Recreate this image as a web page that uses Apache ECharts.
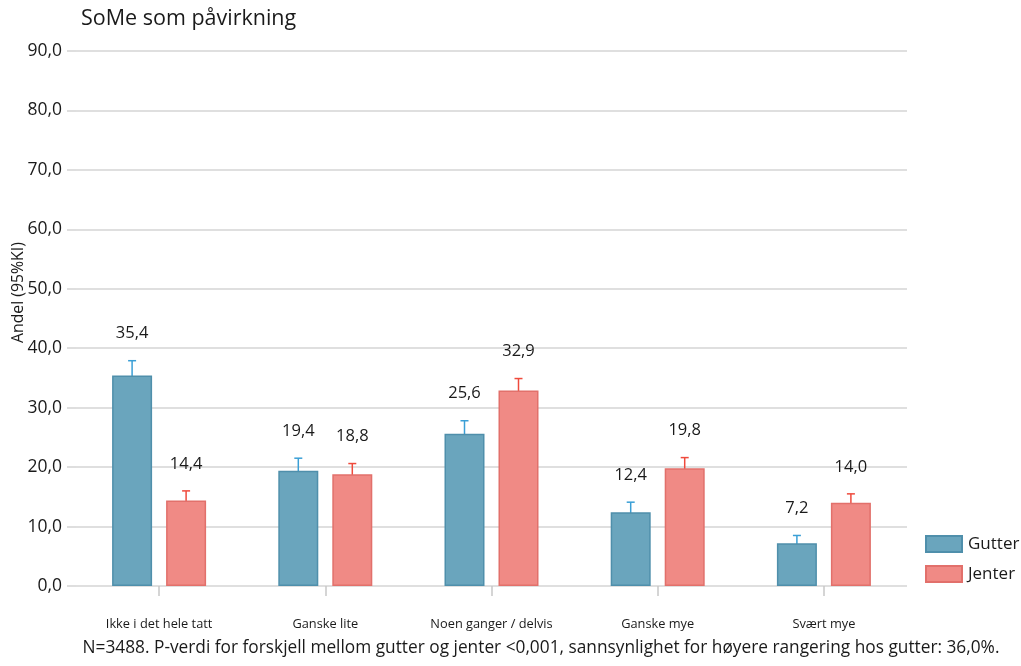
<!DOCTYPE html>
<html>
<head>
<meta charset="utf-8">
<script src="https://cdn.jsdelivr.net/npm/echarts@6/dist/echarts.min.js"></script>
<style>
  html, body { margin: 0; padding: 0; background: #fff; }
  #chart { width: 1021px; height: 666px; }
</style>
</head>
<body>
<div id="chart"></div>
<script>
// Response categories
const categories = ['Ikke i det hele tatt', 'Ganske lite', 'Noen ganger / delvis', 'Ganske mye', 'Svært mye'];

// Shares (%) with 95% confidence intervals
const gutter      = [35.4, 19.4, 25.6, 12.4, 7.2];
const gutterLow   = [32.9, 17.3, 23.4, 10.7, 5.9];
const gutterHigh  = [37.9, 21.5, 27.8, 14.1, 8.5];

const jenter      = [14.4, 18.8, 32.9, 19.8, 14.0];
const jenterLow   = [12.8, 17.0, 30.9, 18.0, 12.5];
const jenterHigh  = [16.0, 20.6, 34.9, 21.6, 15.5];

const yTicks = [0, 10, 20, 30, 40, 50, 60, 70, 80, 90];

const FONT = '"Open Sans", Lato, sans-serif';
const fmt = v => v.toFixed(1).replace('.', ',');

const BAR_W = 40;
const BAR_GAP = 14;
const SHIFT = (BAR_W + BAR_GAP) / 2;

// Whisker + value label for one series, shifted to sit over its bar
function errorSeries(name, values, low, high, color, dir) {
  const data = values.map((v, i) => [i, v, low[i], high[i]]);
  return {
    type: 'custom',
    name: name + ' KI',
    z: 1,
    silent: true,
    data: data,
    encode: { x: 0, y: [2, 3] },
    renderItem: function (params, api) {
      const i = api.value(0);
      const lo = api.coord([i, api.value(2)]);
      const hi = api.coord([i, api.value(3)]);
      const x = lo[0] + dir * SHIFT;
      return {
        type: 'group',
        children: [
          { type: 'line', shape: { x1: x, y1: lo[1], x2: x, y2: hi[1] },
            style: { stroke: color, lineWidth: 1.5 } },
          { type: 'line', shape: { x1: x - 4, y1: hi[1], x2: x + 4, y2: hi[1] },
            style: { stroke: color, lineWidth: 1.5 } },
          { type: 'text', z2: 10,
            style: { x: x, y: hi[1] - 27, text: fmt(api.value(1)),
              align: 'center', verticalAlign: 'middle',
              fill: '#1a1a1a', font: '16.5px ' + FONT } }
        ]
      };
    }
  };
}

const chart = echarts.init(document.getElementById('chart'), null, { renderer: 'canvas' });

chart.setOption({
  animation: false,
  backgroundColor: '#ffffff',
  textStyle: { fontFamily: FONT },
  title: {
    text: 'SoMe som påvirkning',
    left: 76, top: 3,
    textStyle: { fontFamily: FONT, fontSize: 21.5, fontWeight: 'normal', color: '#1a1a1a' }
  },
  legend: {
    data: ['Gutter', 'Jenter'],
    orient: 'vertical',
    left: 925, top: 535, padding: 0,
    itemWidth: 36, itemHeight: 16, itemGap: 12,
    icon: 'rect',
    textStyle: { fontFamily: FONT, fontSize: 17, color: '#1a1a1a', padding: [0, 0, 0, 1] }
  },
  grid: { left: 76, right: 114, top: 51, bottom: 80 },
  xAxis: {
    type: 'category',
    data: categories,
    offset: 16,
    axisLine: { show: false },
    axisTick: { show: true, length: 10, alignWithLabel: true,
      lineStyle: { color: '#c8c8c8', width: 1.5 } },
    axisLabel: { margin: 16, fontFamily: FONT, fontSize: 12.8, color: '#1a1a1a' }
  },
  yAxis: {
    type: 'value',
    min: 0, max: 90, interval: 10,
    axisLine: { show: false },
    axisTick: { show: true, length: 9, lineStyle: { color: '#d4d4d4', width: 1.5 } },
    splitLine: { show: true, lineStyle: { color: '#d4d4d4', width: 1.5 } },
    axisLabel: {
      margin: 14, fontFamily: FONT, fontSize: 17.5, color: '#1a1a1a',
      formatter: v => yTicks.includes(v) ? fmt(v) : ''
    }
  },
  graphic: [
    {
      type: 'text', x: 10, y: 343, rotation: Math.PI / 2,
      style: { text: 'Andel (95%KI)', font: '15.8px ' + FONT, fill: '#1a1a1a',
        align: 'left', verticalAlign: 'top' }
    },
    {
      type: 'text', x: 541, y: 648,
      style: {
        text: 'N=3488. P-verdi for forskjell mellom gutter og jenter <0,001, sannsynlighet for høyere rangering hos gutter: 36,0%.',
        font: '17.3px ' + FONT, fill: '#1a1a1a', align: 'center', verticalAlign: 'middle'
      }
    }
  ],
  series: [
    {
      name: 'Gutter', type: 'bar', data: gutter, z: 3,
      barWidth: BAR_W, barGap: (BAR_GAP / BAR_W * 100) + '%',
      itemStyle: { color: '#6aa5bd', borderColor: '#4f8fab', borderWidth: 1.5 }
    },
    {
      name: 'Jenter', type: 'bar', data: jenter, z: 3,
      barWidth: BAR_W,
      itemStyle: { color: '#f08a85', borderColor: '#e2706b', borderWidth: 1.5 }
    },
    errorSeries('Gutter', gutter, gutterLow, gutterHigh, '#3a9fd6', -1),
    errorSeries('Jenter', jenter, jenterLow, jenterHigh, '#ef4a3c', 1)
  ]
});
</script>
</body>
</html>
